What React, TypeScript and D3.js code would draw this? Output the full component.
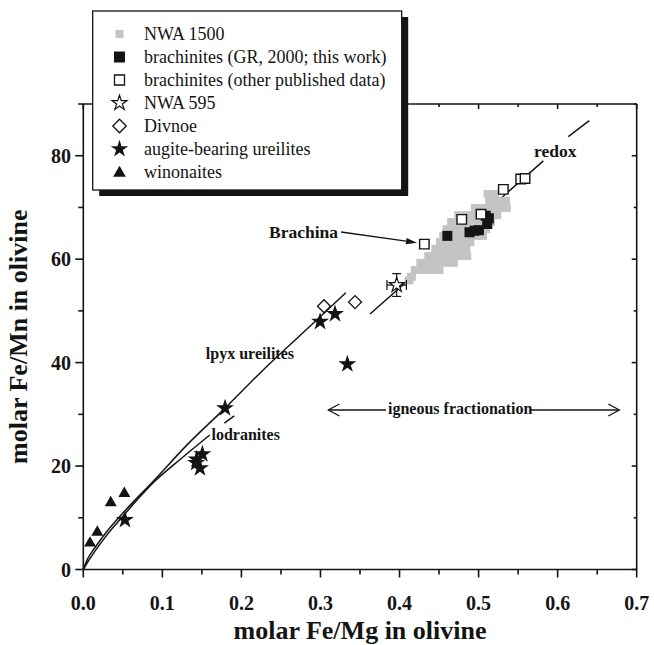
import React from 'react';
import * as d3 from 'd3';

const xTicks = [0, 0.1, 0.2, 0.3, 0.4, 0.5, 0.6, 0.7];
const xTickLabels = ['0.0', '0.1', '0.2', '0.3', '0.4', '0.5', '0.6', '0.7'];
const xMinor = [0.05, 0.15, 0.25, 0.35, 0.45, 0.55, 0.65];
const yTicks = [0, 20, 40, 60, 80];
const yTickLabels = ['0', '20', '40', '60', '80'];
const yMinor = [10, 30, 50, 70, 90];

// NWA 1500 (grey squares)
const nwa1500: [number, number][] = [
  [0.412, 55.9], [0.415, 56.6],
  [0.420, 57.9], [0.430, 57.9], [0.440, 57.9], [0.450, 57.9],
  [0.427, 59.3], [0.437, 59.3], [0.447, 59.3], [0.458, 59.3], [0.468, 59.3],
  [0.437, 60.6], [0.447, 60.6], [0.458, 60.6], [0.468, 60.6], [0.478, 60.6], [0.485, 60.6],
  [0.446, 62.0], [0.455, 62.0], [0.464, 62.0], [0.474, 62.0], [0.484, 62.0],
  [0.452, 63.3], [0.462, 63.3], [0.472, 63.3], [0.482, 63.3], [0.489, 63.3],
  [0.456, 64.5], [0.466, 64.5], [0.476, 64.5], [0.486, 64.5], [0.496, 64.5], [0.505, 64.5],
  [0.460, 65.8], [0.470, 65.8], [0.480, 65.8], [0.490, 65.8], [0.500, 65.8], [0.509, 65.8],
  [0.466, 67.2], [0.476, 67.2], [0.486, 67.2], [0.496, 67.2], [0.506, 67.2], [0.515, 67.2],
  [0.475, 68.5], [0.485, 68.5], [0.495, 68.5], [0.505, 68.5], [0.515, 68.5], [0.523, 68.5],
  [0.496, 69.9], [0.506, 69.9], [0.516, 69.9], [0.526, 69.9], [0.535, 69.9],
  [0.514, 71.3], [0.524, 71.3], [0.534, 71.3],
  [0.512, 72.6], [0.520, 72.6],
];

// brachinites (GR, 2000; this work) - filled squares
const brachGR: [number, number][] = [
  [0.4605, 64.5], [0.4885, 65.2], [0.4950, 65.5], [0.5000, 65.6],
  [0.5090, 68.4], [0.5130, 67.9], [0.5110, 66.8],
];
const brachGRErr = [{ x: 0.5057, lo: 64.7, hi: 67.0 }];

// brachinites (other published data) - open squares
const brachOther: [number, number][] = [
  [0.4314, 62.9], [0.4787, 67.7], [0.5031, 68.7], [0.5313, 73.5], [0.5533, 75.5], [0.5588, 75.6],
];

// NWA 595 - open star with error bars
const nwa595 = [{ x: 0.3964, y: 55.0, ex: 0.0123, ey: 2.2 }];

// Divnoe - open diamonds
const divnoe: [number, number][] = [[0.3045, 50.9], [0.3437, 51.7]];

// augite-bearing ureilites - filled stars
const ureilites: [number, number][] = [
  [0.0527, 9.6], [0.1428, 20.6], [0.1506, 22.3], [0.1476, 19.6], [0.1434, 21.3],
  [0.1793, 31.2], [0.2995, 47.9], [0.3184, 49.4], [0.334, 39.7],
];

// winonaites - filled triangles
const winonaites: [number, number][] = [[0.0085, 5.1], [0.0177, 7.2], [0.0347, 12.9], [0.0519, 14.7]];

// trend lines
const lpyxLine: [number, number][] = [
  [0, 0], [0.005, 1.9], [0.015, 4.3], [0.03, 7.4], [0.05, 10.9], [0.09, 17.3],
  [0.13, 23.9], [0.18, 31.3], [0.225, 38.2], [0.30, 48.9], [0.332, 53.5],
];
const lodraniteLine: [number, number][] = [
  [0, 0], [0.005, 1.3], [0.015, 3.6], [0.03, 6.7], [0.05, 10.3], [0.09, 17.0],
  [0.125, 21.6], [0.16, 26.0],
];
const lodraniteDash: [number, number][] = [[0.1784, 28.3], [0.191, 29.7]];
const redoxSegments: [number, number][][] = [
  [[0.3627, 49.4], [0.5819, 79.0]],
  [[0.6135, 83.7], [0.640, 86.8]],
];

const legendItems = [
  'NWA 1500',
  'brachinites (GR, 2000; this work)',
  'brachinites (other published data)',
  'NWA 595',
  'Divnoe',
  'augite-bearing ureilites',
  'winonaites',
];

const W = 654, H = 645;
const FONT = '"Liberation Serif", "Times New Roman", Times, serif';
const INK = '#141414';

export default function App() {
  const x = d3.scaleLinear().domain([0, 0.7]).range([83.3, 636.7]);
  const y = d3.scaleLinear().domain([0, 90]).range([569.5, 104]);
  const [x0, x1] = x.range();
  const [y0, y1] = y.range();

  const line = d3.line<[number, number]>().x(d => x(d[0])).y(d => y(d[1]));
  const curve = d3.line<[number, number]>().x(d => x(d[0])).y(d => y(d[1])).curve(d3.curveMonotoneX);

  const star = (s: number) => d3.symbol().type(d3.symbolStar).size(s)() as string;
  const tri = (s: number) => d3.symbol().type(d3.symbolTriangle).size(s)() as string;
  const sq = (s: number) => d3.symbol().type(d3.symbolSquare).size(s)() as string;

  // Brachina arrow
  const bStart = [x(0.326), y(65.25)];
  const bTip = [x(0.4221), y(63.19)];
  const ang = Math.atan2(bTip[1] - bStart[1], bTip[0] - bStart[0]);
  const ah = 11, aw = 3.2;
  const bBase = [bTip[0] - ah * Math.cos(ang), bTip[1] - ah * Math.sin(ang)];
  const bHead = `M${bTip[0]},${bTip[1]} L${bBase[0] - aw * Math.sin(ang)},${bBase[1] + aw * Math.cos(ang)} L${bBase[0] + aw * Math.sin(ang)},${bBase[1] - aw * Math.cos(ang)} Z`;

  // igneous fractionation arrow
  const igY = y(30.84);
  const igL = x(0.31), igR = x(0.678);

  const legX = 92.7, legY = 11, legW = 309, legH = 179;
  const legRowY = [34, 57, 80, 103, 126, 149, 172];
  const legSymX = 119.5;

  const legendSymbol = (i: number, cy: number) => {
    const t = `translate(${legSymX},${cy})`;
    switch (i) {
      case 0: return <path d={sq(64)} transform={t} fill="#c4c4c4" />;
      case 1: return <path d={sq(121)} transform={t} fill={INK} />;
      case 2: return <path d={sq(100)} transform={t} fill="#fff" stroke={INK} strokeWidth={1.3} />;
      case 3: return <path d={star(70)} transform={t} fill="#fff" stroke={INK} strokeWidth={1.2} />;
      case 4: return <path d={sq(90)} transform={`${t} rotate(45)`} fill="#fff" stroke={INK} strokeWidth={1.3} />;
      case 5: return <path d={star(95)} transform={t} fill={INK} />;
      default: return <path d={tri(70)} transform={`translate(${legSymX},${cy + 1})`} fill={INK} />;
    }
  };

  return (
    <svg width={W} height={H} style={{ position: 'absolute', left: 0, top: 0, background: '#fff' }} fontFamily={FONT}>
      <rect x={0} y={0} width={W} height={H} fill="#fff" />

      {/* trend lines */}
      <g fill="none" stroke={INK} strokeWidth={1.5}>
        <path d={curve(lpyxLine) as string} />
        <path d={curve(lodraniteLine) as string} />
        <path d={line(lodraniteDash) as string} />
        {redoxSegments.map((s, i) => <path key={i} d={line(s) as string} />)}
      </g>

      {/* NWA 1500 */}
      <g fill="#c4c4c4">
        {nwa1500.map((d, i) => (
          <rect key={i} x={x(d[0]) - 4.5} y={y(d[1]) - 4} width={9} height={8} />
        ))}
      </g>

      {/* error bar on GR brachinites */}
      {brachGRErr.map((d, i) => (
        <line key={i} x1={x(d.x)} x2={x(d.x)} y1={y(d.lo)} y2={y(d.hi)} stroke={INK} strokeWidth={1.3} />
      ))}

      {/* brachinites GR */}
      {brachGR.map((d, i) => (
        <path key={i} d={sq(100)} transform={`translate(${x(d[0])},${y(d[1])})`} fill={INK} />
      ))}

      {/* brachinites other */}
      {brachOther.map((d, i) => (
        <path key={i} d={sq(90)} transform={`translate(${x(d[0])},${y(d[1])})`} fill="#fff" stroke={INK} strokeWidth={1.4} />
      ))}

      {/* NWA 595 */}
      {nwa595.map((d, i) => {
        const cx = x(d.x), cy = y(d.y);
        const xl = x(d.x - d.ex), xr = x(d.x + d.ex), yt = y(d.y + d.ey), yb = y(d.y - d.ey);
        return (
          <g key={i} stroke={INK} strokeWidth={1.2}>
            <line x1={xl} x2={xr} y1={cy} y2={cy} />
            <line x1={xl} x2={xl} y1={cy - 5} y2={cy + 5} />
            <line x1={xr} x2={xr} y1={cy - 5} y2={cy + 5} />
            <line x1={cx} x2={cx} y1={yt} y2={yb} />
            <line x1={cx - 4.5} x2={cx + 4.5} y1={yt} y2={yt} />
            <line x1={cx - 4.5} x2={cx + 4.5} y1={yb} y2={yb} />
            <path d={star(70)} transform={`translate(${cx},${cy})`} fill="#fff" />
          </g>
        );
      })}

      {/* Divnoe */}
      {divnoe.map((d, i) => (
        <path key={i} d={sq(85)} transform={`translate(${x(d[0])},${y(d[1])}) rotate(45)`} fill="#fff" stroke={INK} strokeWidth={1.3} />
      ))}

      {/* ureilites */}
      {ureilites.map((d, i) => (
        <path key={i} d={star(100)} transform={`translate(${x(d[0])},${y(d[1])})`} fill={INK} />
      ))}

      {/* winonaites */}
      {winonaites.map((d, i) => (
        <path key={i} d={tri(62)} transform={`translate(${x(d[0])},${y(d[1])})`} fill={INK} />
      ))}

      {/* axes frame */}
      <g stroke={INK} strokeWidth={1.6} fill="none">
        <line x1={x0} x2={x1} y1={y0} y2={y0} />
        <line x1={x0} x2={x1} y1={y1} y2={y1} />
        <line x1={x0} x2={x0} y1={y0} y2={y1} />
        <line x1={x1} x2={x1} y1={y0} y2={y1} />
        {xTicks.map((t, i) => (
          <g key={'xt' + i}>
            <line x1={x(t)} x2={x(t)} y1={y0} y2={y0 + 8} />
            <line x1={x(t)} x2={x(t)} y1={y1} y2={y1 + 5} />
          </g>
        ))}
        {xMinor.map((t, i) => (
          <g key={'xm' + i}>
            <line x1={x(t)} x2={x(t)} y1={y0} y2={y0 + 5} />
            <line x1={x(t)} x2={x(t)} y1={y1} y2={y1 + 3} />
          </g>
        ))}
        {yTicks.map((t, i) => (
          <g key={'yt' + i}>
            <line x1={x0 - 8} x2={x0} y1={y(t)} y2={y(t)} />
            <line x1={x1 - 5} x2={x1} y1={y(t)} y2={y(t)} />
          </g>
        ))}
        {yMinor.map((t, i) => (
          <g key={'ym' + i}>
            <line x1={x0 - 5} x2={x0} y1={y(t)} y2={y(t)} />
            <line x1={x1 - 3} x2={x1} y1={y(t)} y2={y(t)} />
          </g>
        ))}
      </g>

      {/* tick labels */}
      <g fontSize={20} fontWeight="bold" fill={INK}>
        {xTicks.map((t, i) => (
          <text key={i} x={x(t)} y={610} textAnchor="middle">{xTickLabels[i]}</text>
        ))}
        {yTicks.map((t, i) => (
          <text key={i} x={71} y={y(t) + 7} textAnchor="end">{yTickLabels[i]}</text>
        ))}
      </g>

      {/* axis titles */}
      <text x={360} y={639} textAnchor="middle" fontSize={26} fontWeight="bold" fill={INK}>molar Fe/Mg in olivine</text>
      <text transform={`translate(27,${(y0 + y1) / 2}) rotate(-90)`} textAnchor="middle" fontSize={26} fontWeight="bold" fill={INK}>molar Fe/Mn in olivine</text>

      {/* annotations */}
      <g fontWeight="bold" fill={INK}>
        <text x={294} y={359} textAnchor="end" fontSize={16}>lpyx ureilites</text>
        <text x={211.5} y={440} fontSize={16}>lodranites</text>
        <text x={534} y={157} fontSize={17.5}>redox</text>
        <text x={338} y={238} textAnchor="end" fontSize={17.5}>Brachina</text>
        <text x={388} y={igY + 4.5} fontSize={16}>igneous fractionation</text>
      </g>
      <line x1={bStart[0]} y1={bStart[1]} x2={bBase[0]} y2={bBase[1]} stroke={INK} strokeWidth={1.3} />
      <path d={bHead} fill={INK} />
      <g stroke={INK} strokeWidth={1.3} fill="none">
        <line x1={igL} x2={386} y1={igY} y2={igY} />
        <line x1={530} x2={igR} y1={igY} y2={igY} />
        <path d={`M${igL + 11},${igY - 6} L${igL},${igY} L${igL + 11},${igY + 6}`} />
        <path d={`M${igR - 11},${igY - 6} L${igR},${igY} L${igR - 11},${igY + 6}`} />
      </g>

      {/* legend */}
      <rect x={legX + 6.5} y={legY + 6} width={legW} height={legH} fill={INK} />
      <rect x={legX} y={legY} width={legW} height={legH} fill="#fff" stroke={INK} strokeWidth={1.3} />
      {legendItems.map((lab, i) => (
        <g key={i}>
          {legendSymbol(i, legRowY[i])}
          <text x={144} y={legRowY[i] + 6} fontSize={18} fill={INK}>{lab}</text>
        </g>
      ))}
    </svg>
  );
}
